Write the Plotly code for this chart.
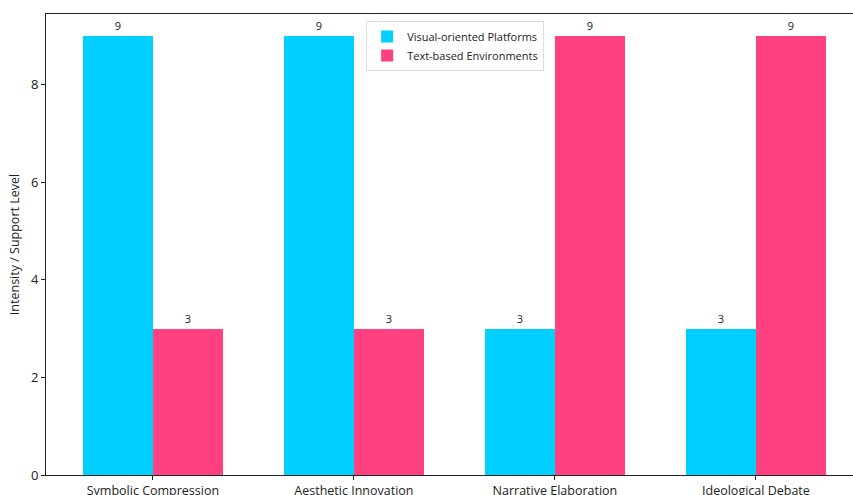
import plotly.graph_objects as go

categories = ["Symbolic Compression", "Aesthetic Innovation", "Narrative Elaboration", "Ideological Debate"]
visual = [9, 9, 3, 3]
text_env = [3, 3, 9, 9]
series_names = ["Visual-oriented Platforms", "Text-based Environments"]
colors = ["#00CFFF", "#FF4081"]

xpos = list(range(len(categories)))
w = 0.35

fig = go.Figure()
for vals, name, col, off in [(visual, series_names[0], colors[0], -w / 2), (text_env, series_names[1], colors[1], w / 2)]:
    fig.add_trace(go.Bar(
        x=[p + off for p in xpos], y=vals, width=w, name=name,
        marker=dict(color=col, line=dict(width=0)),
        text=[str(v) for v in vals], textposition="outside",
        textfont=dict(size=11, color="#222"), cliponaxis=False,
    ))

fig.update_layout(
    width=853, height=495,
    margin=dict(l=46, r=0, t=14, b=20, autoexpand=False),
    paper_bgcolor="white", plot_bgcolor="white",
    font=dict(family="Open Sans, sans-serif", size=12, color="#222"),
    bargap=0, showlegend=True,
    legend=dict(x=0.507, y=0.985, xanchor="center", yanchor="top",
                bgcolor="rgba(255,255,255,0.9)", bordercolor="#ddd", borderwidth=1,
                font=dict(size=11), tracegroupgap=0, itemwidth=30),
    xaxis=dict(range=[-0.532, 3.483], tickmode="array", tickvals=xpos, ticktext=categories,
               showgrid=False, zeroline=False, showline=True, linecolor="#222", linewidth=1,
               mirror=True, ticks="outside", ticklen=4, tickcolor="#222", automargin=False,
               tickfont=dict(size=12.5)),
    yaxis=dict(range=[0, 9.45], tickvals=[0, 2, 4, 6, 8], showgrid=False, zeroline=False,
               showline=True, linecolor="#222", linewidth=1, ticks="outside", ticklen=4,
               tickcolor="#222", automargin=False,
               title=dict(text="Intensity / Support Level", font=dict(size=12.5), standoff=8),
               tickfont=dict(size=13)),
)
fig.write_html("out.html")
